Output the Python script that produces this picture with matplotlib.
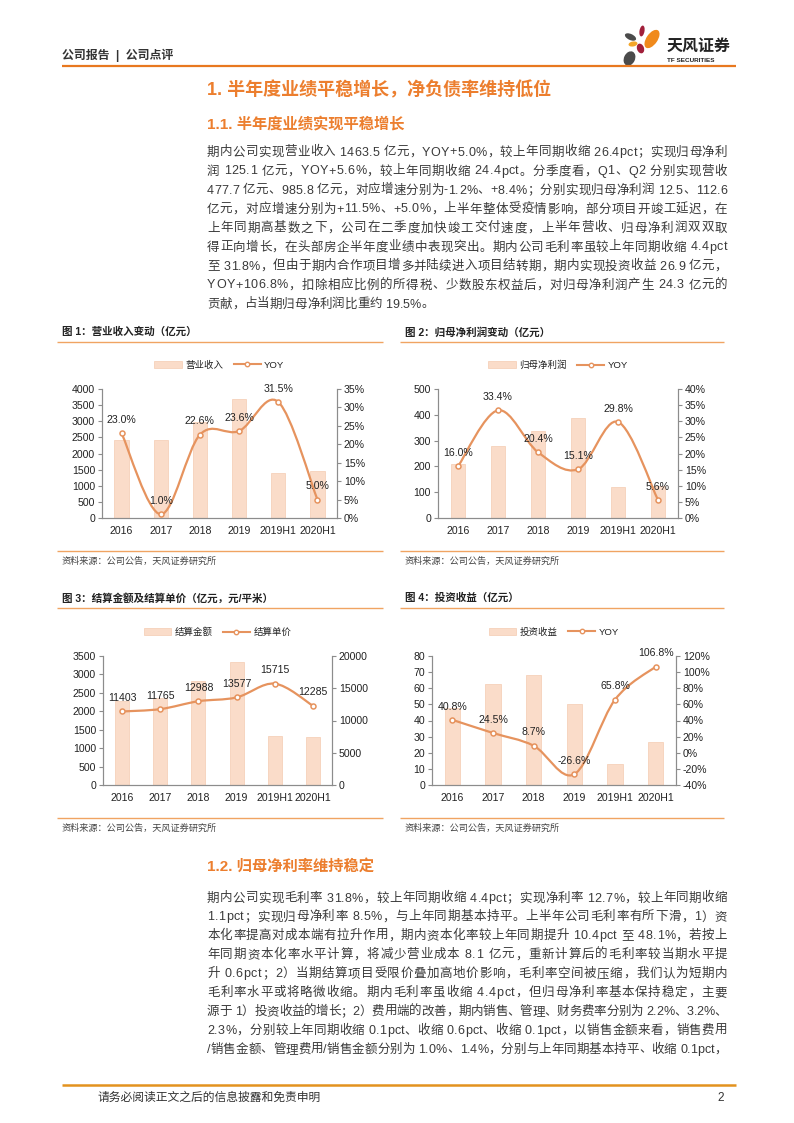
import numpy as np
import matplotlib
matplotlib.use("Agg")
import matplotlib.pyplot as plt
from matplotlib.path import Path
from matplotlib.patches import PathPatch, Ellipse, Patch
from matplotlib.lines import Line2D
from matplotlib.ticker import MultipleLocator, FuncFormatter

plt.rcParams['font.family'] = ['Liberation Sans', 'Noto Sans CJK SC', 'DejaVu Sans']

# ---- data ----
years = ["2016", "2017", "2018", "2019", "2019H1", "2020H1"]

revenue = [2405, 2429, 2977, 3679, 1393, 1463.5]
revenue_yoy = [23.0, 1.0, 22.6, 23.6, 31.5, 5.0]

net_profit = [210, 281, 338, 389, 119, 125.1]
net_profit_yoy = [16.0, 33.4, 20.4, 15.1, 29.8, 5.6]

settle_amount = [2290, 2370, 2830, 3330, 1330, 1290]
settle_price = [11403, 11765, 12988, 13577, 15715, 12285]

invest_income = [47.7, 62.6, 68.0, 50.0, 13.0, 26.9]
invest_yoy = [40.8, 24.5, 8.7, -26.6, 65.8, 106.8]

para1 = [
    "期内公司实现营业收入 1463.5 亿元，YOY+5.0%，较上年同期收缩 26.4pct；实现归母净利",
    "润 125.1 亿元，YOY+5.6%，较上年同期收缩 24.4pct。分季度看，Q1、Q2 分别实现营收",
    "477.7 亿元、985.8 亿元，对应增速分别为-1.2%、+8.4%；分别实现归母净利润 12.5、112.6",
    "亿元，对应增速分别为+11.5%、+5.0%，上半年整体受疫情影响，部分项目开竣工延迟，在",
    "上年同期高基数之下，公司在二季度加快竣工交付速度，上半年营收、归母净利润双双取",
    "得正向增长，在头部房企半年度业绩中表现突出。期内公司毛利率虽较上年同期收缩 4.4pct",
    "至 31.8%，但由于期内合作项目增多并陆续进入项目结转期，期内实现投资收益 26.9 亿元，",
    "YOY+106.8%，扣除相应比例的所得税、少数股东权益后，对归母净利润产生 24.3 亿元的",
    "贡献，占当期归母净利润比重约 19.5%。",
]
para2 = [
    "期内公司实现毛利率 31.8%，较上年同期收缩 4.4pct；实现净利率 12.7%，较上年同期收缩",
    "1.1pct；实现归母净利率 8.5%，与上年同期基本持平。上半年公司毛利率有所下滑，1）资",
    "本化率提高对成本端有拉升作用，期内资本化率较上年同期提升 10.4pct 至 48.1%，若按上",
    "年同期资本化率水平计算，将减少营业成本 8.1 亿元，重新计算后的毛利率较当期水平提",
    "升 0.6pct；2）当期结算项目受限价叠加高地价影响，毛利率空间被压缩，我们认为短期内",
    "毛利率水平或将略微收缩。期内毛利率虽收缩 4.4pct，但归母净利率基本保持稳定，主要",
    "源于 1）投资收益的增长；2）费用端的改善，期内销售、管理、财务费率分别为 2.2%、3.2%、",
    "2.3%，分别较上年同期收缩 0.1pct、收缩 0.6pct、收缩 0.1pct，以销售金额来看，销售费用",
    "/销售金额、管理费用/销售金额分别为 1.0%、1.4%，分别与上年同期基本持平、收缩 0.1pct，",
]

# ---- style ----
W, H = 794, 1123
ORANGE = "#EC7E2E"
SEP = "#F0A462"
BAR = "#FADCC9"
BAR_EDGE = "#F4CBB1"
LINE = "#E6935E"
AXIS = "#8C8C8C"
TEXT = "#3A3A3A"

fig = plt.figure(figsize=(W / 100, H / 100), dpi=100)
fig.patch.set_facecolor("white")
page = fig.add_axes([0, 0, 1, 1])
page.set_xlim(0, W)
page.set_ylim(H, 0)
page.axis("off")
renderer = fig.canvas.get_renderer()


def hline(y, x0, x1, color, lw):
    page.plot([x0, x1], [y, y], color=color, lw=lw, solid_capstyle="butt")


def text_line(s, x0, x1, y, size, justify=True):
    # spread the characters so the line fills x0..x1 (justified paragraph)
    probe = page.text(0, 0, "", fontsize=size)

    def width(t):
        probe.set_text(t)
        return probe.get_window_extent(renderer).width

    pos = []
    for i, ch in enumerate(s):
        pos.append(None if ch == " " else width(s[:i + 1]) - width(ch))
    total = width(s)
    extra = (x1 - x0 - total) / (len(s) - 1) if justify else 0
    for i, ch in enumerate(s):
        if pos[i] is None:
            continue
        page.text(x0 + pos[i] + i * extra, y, ch, fontsize=size, color=TEXT, va="baseline")
    probe.remove()


# ---- header ----
page.text(62, 55, "公司报告  |  公司点评", fontsize=8.6, fontweight="bold", color="#333333", va="center")
hline(66, 62, 736, "#E8781F", 1.6)

# logo
petals = [
    ((642, 31), 5, 11, 10, "#A11F3A"),
    ((630.5, 37), 12, 6, 25, "#4B4B4B"),
    ((652, 39), 11, 21, 35, "#F08A1C"),
    ((633, 44), 9, 5, -10, "#F4A629"),
    ((640.5, 48.5), 7, 10, -20, "#A11F3A"),
    ((629.5, 58.5), 11, 15, 25, "#4B4B4B"),
]
for c, w, h, a, col in petals:
    page.add_patch(Ellipse(c, w, h, angle=a, facecolor=col, edgecolor="none"))
page.text(667, 46, "天风证券", fontsize=11.5, fontweight="bold", color="#222222", va="center")
page.text(667, 61, "TF SECURITIES", fontsize=4.6, fontweight="bold", color="#222222", va="center")

# ---- section titles and text ----
page.text(207, 90, "1. 半年度业绩平稳增长，净负债率维持低位", fontsize=13, fontweight="bold",
          color=ORANGE, va="center")
page.text(207, 125, "1.1. 半年度业绩实现平稳增长", fontsize=11, fontweight="bold",
          color=ORANGE, va="center")
for i, s in enumerate(para1):
    text_line(s, 207, 727, 151 + i * 19 + 4.5, 9, justify=i < len(para1) - 1)

page.text(207, 866, "1.2. 归母净利率维持稳定", fontsize=11, fontweight="bold",
          color=ORANGE, va="center")
for i, s in enumerate(para2):
    text_line(s, 207, 727, 897 + i * 18.9 + 4.5, 9, justify=True)

# footer
hline(1085, 62, 736, "#E3921E", 1.8)
page.text(97, 1098, "请务必阅读正文之后的信息披露和免责申明", fontsize=8.5, color="#333333", va="center")
page.text(724, 1098, "2", fontsize=8.5, color="#333333", va="center", ha="right")


# ---- charts ----
def smooth_path(x, y):
    # smoothed line through the points (Catmull-Rom as cubic Bezier)
    pts = np.column_stack([x, y]).astype(float)
    n = len(pts)
    verts = [pts[0]]
    codes = [Path.MOVETO]
    for i in range(n - 1):
        p0 = pts[i - 1] if i > 0 else pts[i]
        p1, p2 = pts[i], pts[i + 1]
        p3 = pts[i + 2] if i + 2 < n else pts[i + 1]
        verts += [p1 + (p2 - p0) / 6, p2 - (p3 - p1) / 6, p2]
        codes += [Path.CURVE4] * 3
    return Path(verts, codes)


def chart(box, frame, title, bars, line, bar_name, line_name,
          lmax, lstep, rlim, rstep, pct):
    l, t, r, b = box
    fx0, fx1, ty = frame
    # title and separators
    page.text(fx0 + 5, ty, title, fontsize=7.6, fontweight="bold", color="#222222", va="center")
    hline(ty + 10, fx0, fx1, SEP, 1.0)
    hline(b + 33, fx0, fx1, SEP, 1.0)
    page.text(fx0 + 5, b + 43, "资料来源：公司公告，天风证券研究所", fontsize=6.6,
              color="#444444", va="center")

    ax = fig.add_axes([l / W, 1 - b / H, (r - l) / W, (b - t) / H])
    x = np.arange(len(years))
    ax.bar(x, bars, width=0.37, color=BAR, edgecolor=BAR_EDGE, lw=0.5, zorder=1)
    ax.set_xlim(-0.5, len(years) - 0.5)
    ax.set_ylim(0, lmax)
    ax.yaxis.set_major_locator(MultipleLocator(lstep))
    ax.set_xticks(x)
    ax.set_xticklabels(years)
    ax.set_facecolor("none")

    ax2 = ax.twinx()
    ax2.set_ylim(*rlim)
    ax2.yaxis.set_major_locator(MultipleLocator(rstep))
    if pct:
        ax2.yaxis.set_major_formatter(FuncFormatter(lambda v, p: f"{v:.0f}%"))
    ax2.add_patch(PathPatch(smooth_path(x, line), fill=False, edgecolor=LINE, lw=1.6, zorder=3))
    ax2.plot(x, line, ls="none", marker="o", ms=3.6, mfc="white", mec=LINE, mew=1.1, zorder=4)
    for xi, v in zip(x, line):
        lab = f"{v:.1f}%" if pct else f"{v:.0f}"
        ax2.annotate(lab, (xi, v), xytext=(0, 6), textcoords="offset points",
                     ha="center", va="bottom", fontsize=7.6, color="#222222")

    for a in (ax, ax2):
        a.spines["top"].set_visible(False)
        for sp in ("left", "right", "bottom"):
            a.spines[sp].set_color(AXIS)
            a.spines[sp].set_linewidth(0.8)
        a.tick_params(axis="y", length=3, width=0.8, color=AXIS, labelsize=7.6,
                      labelcolor="#222222", pad=2)
    ax.tick_params(axis="x", length=0, labelsize=7.6, labelcolor="#222222", pad=6)

    handles = [Patch(facecolor=BAR, edgecolor=BAR_EDGE, lw=0.5),
               Line2D([], [], color=LINE, lw=1.5, marker="o", ms=3.2, mfc="white", mec=LINE)]
    fig.legend(handles, [bar_name, line_name], loc="center",
               bbox_to_anchor=((l + r) / 2 / W, 1 - (t - 24) / H), ncol=2, frameon=False,
               fontsize=6.8, handlelength=2.9, handleheight=0.7, handletextpad=0.35,
               columnspacing=1.1, labelcolor="#222222")


chart((102, 389, 337, 518), (57, 383, 332), "图 1：营业收入变动（亿元）",
      revenue, revenue_yoy, "营业收入", "YOY", 4000, 500, (0, 35), 5, True)
chart((438, 389, 678, 518), (400, 724, 332), "图 2：归母净利润变动（亿元）",
      net_profit, net_profit_yoy, "归母净利润", "YOY", 500, 100, (0, 40), 5, True)
chart((103, 656, 332, 785), (57, 383, 598), "图 3：结算金额及结算单价（亿元，元/平米）",
      settle_amount, settle_price, "结算金额", "结算单价", 3500, 500, (0, 20000), 5000, False)
chart((432, 656, 676, 785), (400, 724, 598), "图 4：投资收益（亿元）",
      invest_income, invest_yoy, "投资收益", "YOY", 80, 10, (-40, 120), 20, True)

fig.savefig("out.png", dpi=100, facecolor="white")
